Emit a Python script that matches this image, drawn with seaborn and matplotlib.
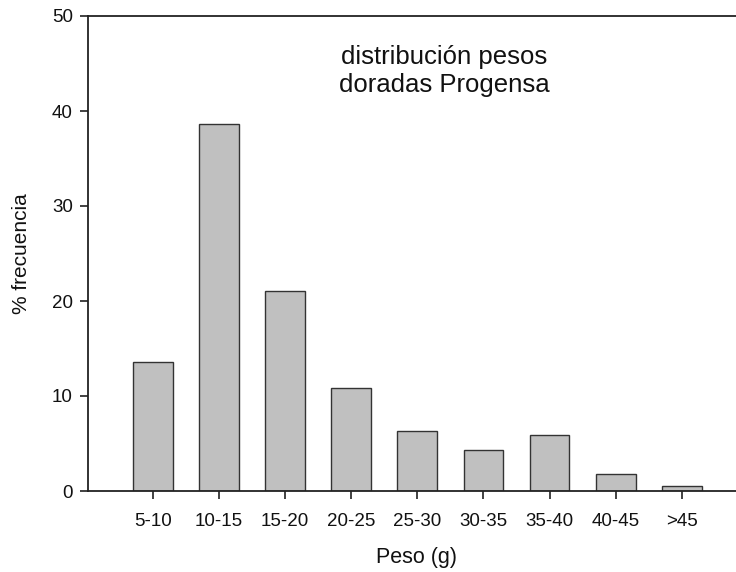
import matplotlib
matplotlib.use("Agg")
import matplotlib.pyplot as plt
import seaborn as sns
import pandas as pd

categories = ["5-10", "10-15", "15-20", "20-25", "25-30", "30-35", "35-40", "40-45", ">45"]
frecuencia = [13.6, 38.6, 21.1, 10.8, 6.3, 4.3, 5.9, 1.8, 0.5]
y_ticks = [0, 10, 20, 30, 40, 50]

sns.set_theme(style="ticks")
plt.rcParams['font.family'] = ['Liberation Sans', 'DejaVu Sans']

df = pd.DataFrame({"cat": categories, "val": frecuencia})

W, H = 736, 572
fig = plt.figure(figsize=(W / 100, H / 100), dpi=100)
ax = fig.add_axes([88 / W, 1 - 491 / H, 660 / W, 475 / H])

sns.barplot(data=df, x="cat", y="val", ax=ax, color="#c0c0c0", width=0.6,
            edgecolor="#333333", linewidth=1.0, saturation=1)

ax.set_xlim(-0.98, 9.0)
ax.set_ylim(0, 50)
ax.set_yticks(y_ticks)
ax.set_yticklabels([str(t) for t in y_ticks])

for s in ax.spines.values():
    s.set_visible(True)
    s.set_color("#222222")
    s.set_linewidth(1.3)

ax.tick_params(axis="both", direction="out", length=6, width=1.3, color="#333333",
               labelsize=13.5, labelcolor="#111111")
ax.tick_params(axis="x", pad=10)
ax.tick_params(axis="y", pad=5)

ax.set_xlabel("Peso (g)", fontsize=15.5, color="#111111")
ax.set_ylabel("% frecuencia", fontsize=15, color="#111111")
ax.xaxis.set_label_coords((417 - 88) / 660, -(558 - 491) / 475)
ax.yaxis.set_label_coords(-(88 - 22) / 660, 0.5)
ax.xaxis.label.set_va("center")
ax.yaxis.label.set_va("center")

fig.text(444 / W, 1 - 71 / H, "distribución pesos\ndoradas Progensa", ha="center", va="center",
         fontsize=18.5, color="#111111", linespacing=1.2)

fig.savefig("out.png", dpi=100)
